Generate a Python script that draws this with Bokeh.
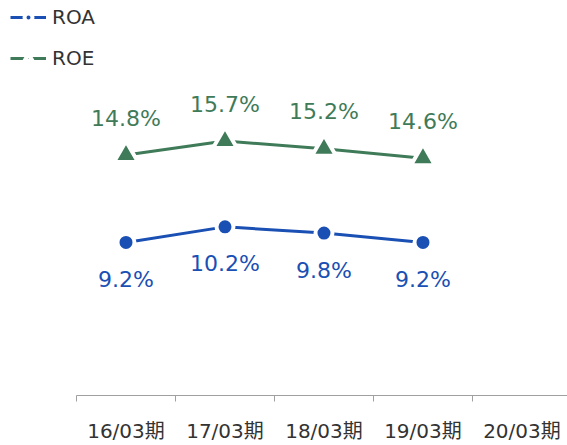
from bokeh.plotting import figure
from bokeh.models import Range1d, FixedTicker, ColumnDataSource, LabelSet, Legend, LegendItem
from bokeh.core.properties import value
from bokeh.embed import file_html
from bokeh.resources import INLINE

categories = ["16/03期", "17/03期", "18/03期", "19/03期", "20/03期"]
periods = ["16/03期", "17/03期", "18/03期", "19/03期"]
roa = [9.2, 10.2, 9.8, 9.2]
roe = [14.8, 15.7, 15.2, 14.6]

BLUE = "#1a4fb3"
GREEN = "#3f7b58"
FONT = "DejaVu Sans"

xs = [categories.index(c) + 0.5 for c in periods]
src = ColumnDataSource(dict(
    x=xs, roa=roa, roe=roe,
    roa_lbl=[f"{v:.1f}%" for v in roa],
    roe_lbl=[f"{v:.1f}%" for v in roe],
))

p = figure(frame_width=559, frame_height=395, output_backend="svg", toolbar_location=None,
           x_range=Range1d(-0.687, 4.96), y_range=Range1d(-0.61, 24.71),
           y_axis_location=None, min_border_left=8, min_border_right=0,
           min_border_top=0, min_border_bottom=42)
p.outline_line_color = None
p.grid.visible = False
p.background_fill_color = "white"
p.border_fill_color = "white"

ax = p.xaxis[0]
ax.ticker = FixedTicker(ticks=xs + [4.5], minor_ticks=list(range(len(categories) + 1)))
ax.major_label_overrides = {categories.index(c) + 0.5: c for c in categories}
ax.bounds = (0, len(categories))
ax.axis_line_color = "#a0a0a0"
ax.axis_line_width = 1
ax.major_tick_out = 0
ax.major_tick_in = 0
ax.minor_tick_out = 6
ax.minor_tick_in = 0
ax.minor_tick_line_color = "#a0a0a0"
ax.major_label_standoff = 17
ax.major_label_text_font = "DejaVu Sans, Noto Sans CJK JP"
ax.major_label_text_font_size = "20px"
ax.major_label_text_color = "#333333"

l1 = p.line("x", "roa", source=src, line_color=BLUE, line_width=3)
m1 = p.scatter("x", "roa", source=src, marker="circle", size=17, fill_color=BLUE,
               line_color="white", line_width=4)
l2 = p.line("x", "roe", source=src, line_color=GREEN, line_width=3)
m2 = p.scatter("x", "roe", source=src, marker="triangle", size=24, fill_color=GREEN,
               line_color="white", line_width=4)

lab1 = LabelSet(x="x", y="roa", text="roa_lbl", source=src, y_offset=-37,
                text_align="center", text_baseline="middle", text_color=BLUE,
                text_font=value(FONT), text_font_size="22px")
lab2 = LabelSet(x="x", y="roe", text="roe_lbl", source=src, y_offset=37,
                text_align="center", text_baseline="middle", text_color=GREEN,
                text_font=value(FONT), text_font_size="22px")
p.add_layout(lab1)
p.add_layout(lab2)

legend = Legend(items=[LegendItem(label="ROA", renderers=[l1, m1]),
                       LegendItem(label="ROE", renderers=[l2, m2])],
                location=(2, 325), padding=0, margin=0, spacing=17,
                glyph_width=36, glyph_height=20, label_standoff=6,
                label_text_font=FONT, label_text_font_size="20px",
                label_text_color="#333333", border_line_color=None,
                background_fill_alpha=0)
p.add_layout(legend)

open("out.html", "w").write(file_html(p, INLINE))
